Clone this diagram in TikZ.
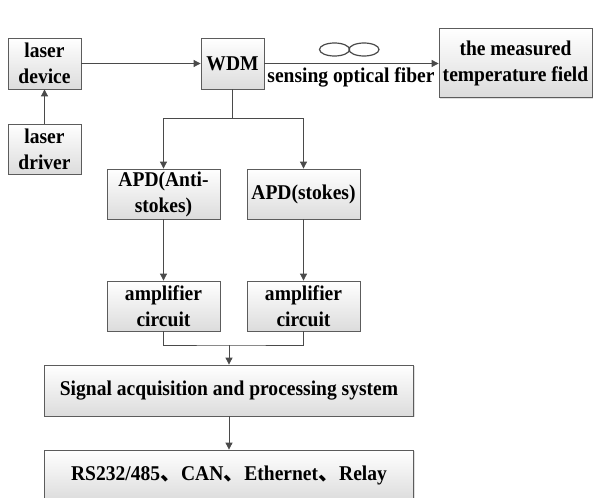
\documentclass[tikz,border=0pt]{standalone}
\usepackage{fontspec}
\setmainfont{Liberation Serif}[FakeStretch=0.93]
\newfontfamily\cjk{Noto Sans CJK SC}
\usetikzlibrary{arrows.meta,shadows}
\definecolor{dtsLine}{HTML}{4A4A4A}
\definecolor{dtsEdge}{HTML}{5C5C5C}
\definecolor{dtsFill}{HTML}{DCDCDC}
\newcommand{\dtscomma}{{\cjk 、}}

\begin{document}
\begin{tikzpicture}[x=1pt, y=-1pt,
  blk/.style={draw=dtsEdge, line width=0.8pt, top color=white, bottom color=dtsFill,
    drop shadow={shadow xshift=1.2pt, shadow yshift=-1.2pt, opacity=0.25},
    inner sep=0pt, align=center, font=\fontsize{21pt}{26pt}\selectfont\bfseries},
  ln/.style={draw=dtsLine, line width=0.8pt},
  arr/.style={ln, -{Triangle[length=7pt, width=7pt]}}]
\useasboundingbox (0,0) rectangle (593,497);
\clip (0,0) rectangle (593,497);
% top row
\node[blk, minimum width=73pt, minimum height=51pt] (dev) at (44.5,63.5) {laser\\device};
\node[blk, minimum width=73pt, minimum height=50pt] (drv) at (44.5,149) {laser\\driver};
\node[blk, minimum width=63pt, minimum height=51pt] (wdm) at (232.5,63.5) {WDM};
\node[blk, minimum width=153pt, minimum height=69pt] (fld) at (515.5,63) {the measured\\temperature field};
% detectors and amplifiers
\node[blk, minimum width=113pt, minimum height=50pt] (apda) at (163.5,194) {APD(Anti-\\stokes)};
\node[blk, minimum width=113pt, minimum height=50pt] (apds) at (303.5,194) {APD(stokes)};
\node[blk, minimum width=113pt, minimum height=50pt] (ampa) at (163.5,306) {amplifier\\circuit};
\node[blk, minimum width=113pt, minimum height=50pt] (amps) at (303.5,306) {amplifier\\circuit};
% processing and output
\node[blk, minimum width=369pt, minimum height=51pt] (sig) at (229,390.5) {Signal acquisition and processing system};
\node[blk, minimum width=369pt, minimum height=51pt] (out) at (229,475.5) {RS232/485\dtscomma CAN\dtscomma Ethernet\dtscomma Relay};
\coordinate (split) at (232.5,118);
\coordinate (merge) at (229,345);
% connectors
\draw[arr] (drv) -- (dev);
\draw[arr] (dev) -- (wdm);
\draw[arr] (wdm.east) -- (wdm.east -| fld.west) node[midway, below=0pt, font=\fontsize{21pt}{26pt}\selectfont\bfseries, xshift=-0.5pt] (fib) {sensing optical fiber};
\draw[ln, line width=1.2pt] (334.5,49.5) ellipse (15pt and 6.5pt) (364,49.5) ellipse (15pt and 6.5pt);
\draw[ln] (wdm.south) -- (split);
\draw[arr] (split) -| (apda.north);
\draw[arr] (split) -| (apds.north);
\draw[arr] (apda) -- (ampa);
\draw[arr] (apds) -- (amps);
\draw[ln] (ampa.south) |- (merge) -| (amps.south);
\draw[arr] (merge) -- (sig.north);
\draw[arr] (sig) -- (out);
\end{tikzpicture}
\end{document}
